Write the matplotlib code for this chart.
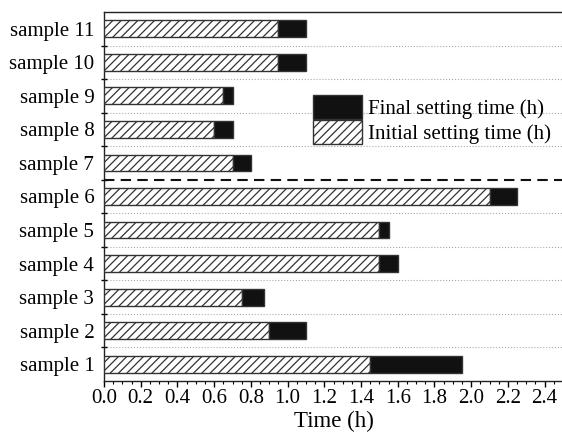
import matplotlib.pyplot as plt
from matplotlib.ticker import MultipleLocator, FixedLocator
import numpy as np

# * - - - Data
samples = ["sample 1", "sample 2", "sample 3", "sample 4", "sample 5", "sample 6",
           "sample 7", "sample 8", "sample 9", "sample 10", "sample 11"]
initial_time = [1.45, 0.90, 0.75, 1.50, 1.50, 2.10, 0.70, 0.60, 0.65, 0.95, 0.95]
final_time = [1.95, 1.10, 0.87, 1.60, 1.55, 2.25, 0.80, 0.70, 0.70, 1.10, 1.10]

plt.rcParams["font.family"] = ["Liberation Serif", "DejaVu Serif"]
plt.rcParams["hatch.linewidth"] = 0.9

fig = plt.figure(figsize=(5.62, 4.41), dpi=100)
ax = fig.add_axes([104 / 562, 1 - 381 / 441, (563 - 104) / 562, (381 - 12) / 441])

y = np.arange(1, len(samples) + 1)
initial = np.array(initial_time)
final = np.array(final_time)

# * - - - Bars: hatched initial part, black extension up to final time
ax.barh(y, initial, height=0.5, color="white", edgecolor="#333333",
        hatch="////", linewidth=1.0, label="Initial setting time (h)", zorder=3)
ax.barh(y, final - initial, left=initial, height=0.5, color="#111111",
        edgecolor="#333333", linewidth=1.0, label="Final setting time (h)", zorder=3)

# * - - - Dotted separators and dashed group divider
bounds = np.arange(1.5, len(samples), 1.0)
for b in bounds:
    if b == 6.5:
        continue
    ax.axhline(b, color="#aaaaaa", linestyle=":", linewidth=0.8, zorder=1)
ax.axhline(6.5, color="#111111", linestyle=(0, (5, 3)), linewidth=1.5, zorder=4)

ax.set_xlim(0, 2.5)
ax.set_ylim(0.5, len(samples) + 0.5)

ax.xaxis.set_major_locator(MultipleLocator(0.2))
ax.xaxis.set_minor_locator(MultipleLocator(0.05))
ax.xaxis.set_major_formatter(plt.FormatStrFormatter("%.1f"))
ax.tick_params(axis="x", which="major", direction="out", length=4, width=1,
               labelsize=15, pad=2)
ax.tick_params(axis="x", which="minor", direction="out", length=2, width=0.8)

ax.set_yticks(y)
ax.set_yticklabels(samples)
ax.yaxis.set_minor_locator(FixedLocator(bounds))
ax.tick_params(axis="y", which="major", length=0, labelsize=15, pad=7)
ax.tick_params(axis="y", which="minor", direction="inout", length=5, width=1)

ax.set_xlabel("Time (h)", fontsize=16.5, labelpad=2)

for side in ["left", "bottom", "top"]:
    ax.spines[side].set_linewidth(1.0)
    ax.spines[side].set_color("#222222")
ax.spines["right"].set_visible(False)

# * - - - Legend: Final first, then Initial
handles, labels = ax.get_legend_handles_labels()
ax.legend(handles[::-1], labels[::-1], loc="upper left",
          bbox_to_anchor=(0.455, 0.775), frameon=False, fontsize=15,
          borderpad=0, borderaxespad=0, handlelength=2.35, handleheight=1.4,
          labelspacing=0.05, handletextpad=0.3)

fig.savefig("out.png", dpi=100)
